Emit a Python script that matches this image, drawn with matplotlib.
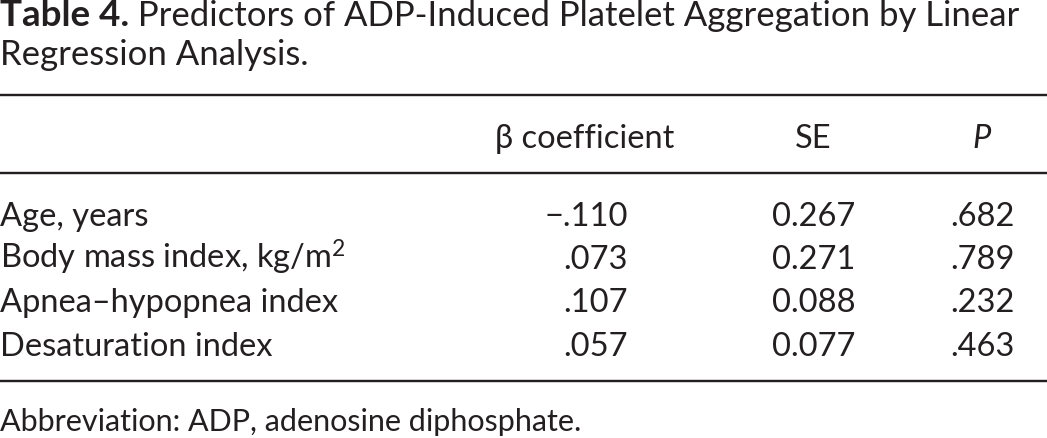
import matplotlib
matplotlib.use("Agg")
import matplotlib.pyplot as plt

# Table content
title_bold = "Table 4."
title_rest = " Predictors of ADP-Induced Platelet Aggregation by Linear"
title_line2 = "Regression Analysis."
headers = ["β coefficient", "SE", "P"]
row_labels = ["Age, years", "Body mass index, kg/m$^2$", "Apnea–hypopnea index", "Desaturation index"]
beta = ["−.110", ".073", ".107", ".057"]
se = ["0.267", "0.271", "0.088", "0.077"]
p_values = [".682", ".789", ".232", ".463"]
footnote = "Abbreviation: ADP, adenosine diphosphate."

W, H = 1047, 439
INK = "#231f20"
FS = 23.5        # table body
FS_TITLE = 25
FS_NOTE = 22

plt.rcParams["font.family"] = ["Lato", "DejaVu Sans"]
plt.rcParams["mathtext.fontset"] = "custom"
plt.rcParams["mathtext.rm"] = "Lato"
plt.rcParams["mathtext.it"] = "Lato:italic"

fig = plt.figure(figsize=(W / 100, H / 100), dpi=100)


def fy(y):
    # pixel row from top -> figure fraction
    return 1 - y / H


def fx(x):
    return x / W


def put(x, y, s, **kw):
    kw.setdefault("fontsize", FS)
    kw.setdefault("color", INK)
    kw.setdefault("va", "baseline")
    return fig.text(fx(x), fy(y), s, **kw)


def rule(y, lw=2.4):
    fig.add_artist(plt.Line2D([0, 1], [fy(y), fy(y)], color=INK, lw=lw * 0.72,
                              transform=fig.transFigure))


# title, bold part followed by regular text
t = put(0, 26, title_bold, fontweight="bold", fontsize=26.5)
renderer = fig.canvas.get_renderer()
bb = t.get_window_extent(renderer)
put(bb.x1, 26, title_rest, fontsize=FS_TITLE)
put(0, 65, title_line2, fontsize=FS_TITLE)

rule(96)
rule(174)
rule(382)

# column headers
put(585, 148, headers[0], ha="center")
put(813, 148, headers[1], ha="center")
put(982, 148, headers[2], ha="center", style="italic")

row_y = [226, 269, 312, 356]
for i, y in enumerate(row_y):
    put(0, y, row_labels[i])
    put(628, y, beta[i], ha="right")
    put(772, y, se[i])
    put(950, y, p_values[i])

put(0, 431, footnote, fontsize=FS_NOTE)

fig.savefig("out.png", dpi=100)
